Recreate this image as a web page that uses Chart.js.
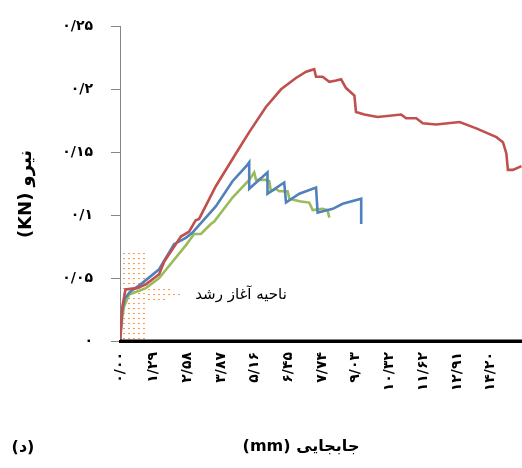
<!DOCTYPE html>
<html><head><meta charset="utf-8">
<script src="https://cdn.jsdelivr.net/npm/chart.js@4"></script>
<style>html,body{margin:0;padding:0;background:#fff}#wrap{width:522px;height:468px}</style>
</head><body><div id="wrap"><canvas id="c" width="522" height="468"></canvas></div>
<script>
// ---- data (mm, kN) ----
const redX = [0,0.09,0.21,0.65,0.99,1.50,1.69,2.14,2.33,2.65,2.90,3.03,3.67,4.44,4.95,5.59,6.17,6.74,7.13,7.44,7.51,7.76,8.02,8.28,8.47,8.66,8.98,9.04,9.36,9.87,10.77,10.96,11.35,11.60,12.11,13.01,13.65,14.42,14.67,14.80,14.86,15.05,15.38];
const redY = [0,0.027,0.041,0.042,0.045,0.053,0.063,0.077,0.083,0.087,0.096,0.097,0.123,0.149,0.166,0.186,0.200,0.209,0.214,0.216,0.210,0.210,0.206,0.207,0.208,0.201,0.195,0.182,0.180,0.178,0.180,0.177,0.177,0.173,0.172,0.174,0.169,0.162,0.158,0.149,0.136,0.136,0.139];
const blueX = [0,0.08,0.19,0.38,0.79,1.50,2.07,2.52,2.77,3.03,3.67,4.31,4.88,4.95,4.95,5.65,5.65,6.29,6.36,6.87,7.51,7.57,8.15,8.53,9.24,9.24];
const blueY = [0,0.024,0.034,0.039,0.045,0.057,0.077,0.082,0.086,0.092,0.107,0.127,0.140,0.142,0.121,0.134,0.117,0.126,0.110,0.117,0.122,0.102,0.105,0.109,0.113,0.093];
const greenX = [0,0.09,0.15,0.35,0.73,0.99,1.50,2.01,2.52,2.84,3.10,3.48,3.61,4.31,4.95,5.14,5.21,5.40,5.59,5.72,5.78,5.97,6.10,6.42,6.49,6.87,7.25,7.38,7.76,7.95,8.02];
const greenY = [0,0.019,0.027,0.037,0.040,0.042,0.050,0.063,0.076,0.085,0.085,0.093,0.095,0.114,0.128,0.134,0.128,0.128,0.128,0.127,0.119,0.121,0.119,0.119,0.113,0.111,0.110,0.104,0.105,0.104,0.098];

const xTickValues = [0,1.29,2.58,3.87,5.16,6.45,7.74,9.03,10.32,11.62,12.91,14.20];
const xTickLabels = ['۰/۰۰','۱/۲۹','۲/۵۸','۳/۸۷','۵/۱۶','۶/۴۵','۷/۷۴','۹/۰۳','۱۰/۳۲','۱۱/۶۲','۱۲/۹۱','۱۴/۲۰'];
const yTickValues = [0,0.05,0.1,0.15,0.2,0.25];
const yTickLabels = ['۰','۰/۰۵','۰/۱','۰/۱۵','۰/۲','۰/۲۵'];

const xTitle = '(mm) جابجایی';
const yTitle = '(KN) نیرو';
const panelLabel = '(د)';
const noteText = 'ناحیه آغاز رشد';

function pts(xs, ys){ return xs.map((x,i)=>({x:x, y:ys[i]})); }

const FONT = '"DejaVu Sans", sans-serif';

const decor = {
  id:'decor',
  beforeDraw(chart){
    const ctx = chart.ctx;
    ctx.save(); ctx.fillStyle='#fff'; ctx.fillRect(0,0,chart.width,chart.height); ctx.restore();
  },
  beforeDatasetsDraw(chart){
    const ctx = chart.ctx;
    const xs = chart.scales.x, ys = chart.scales.y;
    ctx.save();
    ctx.fillStyle = '#F79646';
    const left = xs.getPixelForValue(0);
    const top = ys.getPixelForValue(0.05) - 25;
    const bottom = ys.getPixelForValue(0);
    for (let y = top; y <= bottom; y += 5) {
      for (let x = left + 3; x <= left + 24; x += 5) ctx.fillRect(x, y, 2, 1);
    }
    const ext = [[11,50],[16,62],[21,45]];
    const base = ys.getPixelForValue(0.05);
    ext.forEach(([dy,len])=>{
      for (let x = left + 28; x <= left + len; x += 5) ctx.fillRect(x, base+dy, 2, 1);
    });
    ctx.restore();
  },
  afterDraw(chart){
    const ctx = chart.ctx;
    const ca = chart.chartArea;
    ctx.save();
    ctx.fillStyle = '#000000';
    ctx.fillRect(ca.left, ca.bottom - 1.5, ca.right - ca.left, 3);
    ctx.textAlign = 'center';
    ctx.textBaseline = 'middle';
    ctx.direction = 'ltr';
    ctx.font = 'bold 18px ' + FONT;
    ctx.save(); ctx.translate(26,194); ctx.rotate(-Math.PI/2); ctx.fillText(yTitle,0,0); ctx.restore();
    ctx.font = 'bold 16px ' + FONT;
    ctx.fillText(xTitle, 301, 447);
    ctx.fillText(panelLabel, 23, 448);
    ctx.font = '15px ' + FONT;
    ctx.fillText(noteText, 241, 295);
    ctx.restore();
  }
};

new Chart(document.getElementById('c'), {
  type:'line',
  data:{ datasets:[
    {data:pts(redX,redY), borderColor:'#C0504D', borderWidth:2.6, pointRadius:0, tension:0},
    {data:pts(blueX,blueY), borderColor:'#4F81BD', borderWidth:2.6, pointRadius:0, tension:0},
    {data:pts(greenX,greenY), borderColor:'#9BBB59', borderWidth:2.6, pointRadius:0, tension:0}
  ]},
  options:{
    responsive:false, animation:false,
    layout:{padding:{top:21,left:0,right:0,bottom:0}},
    plugins:{legend:{display:false}, tooltip:{enabled:false}},
    scales:{
      x:{
        type:'linear', min:0, max:15.4,
        afterBuildTicks(s){ s.ticks = xTickValues.map(v=>({value:v})); },
        afterFit(s){ s.height = 127; },
        grid:{display:false, drawTicks:false},
        border:{display:true, color:'#000000', width:3},
        ticks:{ autoSkip:false, minRotation:90, maxRotation:90, padding:11, color:'#000',
          font:{family:FONT, size:14, weight:'bold'},
          callback:(v,i)=>xTickLabels[i] }
      },
      y:{
        type:'linear', min:0, max:0.25,
        afterBuildTicks(s){ s.ticks = yTickValues.map(v=>({value:v})); },
        afterFit(s){ s.width = 120; },
        grid:{display:true, drawOnChartArea:false, drawTicks:true, tickLength:9, color:'#868686'},
        border:{display:true, color:'#868686', width:1},
        ticks:{ padding:18, color:'#000', font:{family:FONT, size:14, weight:'bold'},
          callback:(v,i)=>yTickLabels[i] }
      }
    }
  },
  plugins:[decor]
});
</script></body></html>
